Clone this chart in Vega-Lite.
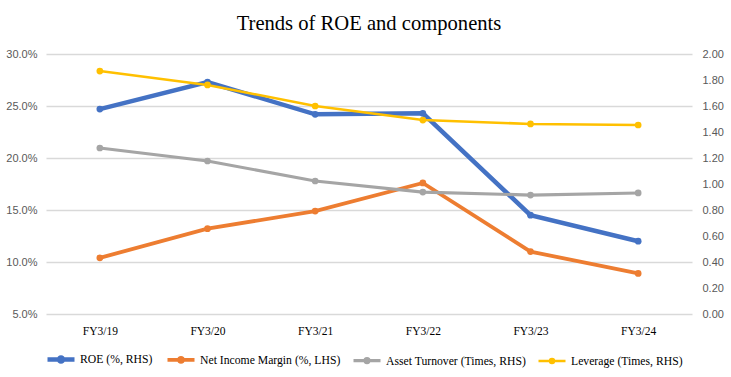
{
  "$schema": "https://vega.github.io/schema/vega-lite/v6.json",
  "width": 646,
  "height": 260,
  "autosize": "none",
  "padding": {"left": 46, "top": 54, "right": 39, "bottom": 63},
  "background": "white",
  "title": {"text": "Trends of ROE and components", "font": "Liberation Serif", "fontSize": 20.6, "fontWeight": "normal", "color": "#000000", "offset": 13},
  "data": {"values": [
    {"fy": "FY3/19", "series": "ROE (%, RHS)", "axis": "L", "value": 0.247},
    {"fy": "FY3/20", "series": "ROE (%, RHS)", "axis": "L", "value": 0.273},
    {"fy": "FY3/21", "series": "ROE (%, RHS)", "axis": "L", "value": 0.242},
    {"fy": "FY3/22", "series": "ROE (%, RHS)", "axis": "L", "value": 0.243},
    {"fy": "FY3/23", "series": "ROE (%, RHS)", "axis": "L", "value": 0.145},
    {"fy": "FY3/24", "series": "ROE (%, RHS)", "axis": "L", "value": 0.120},
    {"fy": "FY3/19", "series": "Net Income Margin (%, LHS)", "axis": "L", "value": 0.104},
    {"fy": "FY3/20", "series": "Net Income Margin (%, LHS)", "axis": "L", "value": 0.132},
    {"fy": "FY3/21", "series": "Net Income Margin (%, LHS)", "axis": "L", "value": 0.149},
    {"fy": "FY3/22", "series": "Net Income Margin (%, LHS)", "axis": "L", "value": 0.176},
    {"fy": "FY3/23", "series": "Net Income Margin (%, LHS)", "axis": "L", "value": 0.110},
    {"fy": "FY3/24", "series": "Net Income Margin (%, LHS)", "axis": "L", "value": 0.089},
    {"fy": "FY3/19", "series": "Asset Turnover (Times, RHS)", "axis": "R", "value": 1.277},
    {"fy": "FY3/20", "series": "Asset Turnover (Times, RHS)", "axis": "R", "value": 1.177},
    {"fy": "FY3/21", "series": "Asset Turnover (Times, RHS)", "axis": "R", "value": 1.023},
    {"fy": "FY3/22", "series": "Asset Turnover (Times, RHS)", "axis": "R", "value": 0.938},
    {"fy": "FY3/23", "series": "Asset Turnover (Times, RHS)", "axis": "R", "value": 0.915},
    {"fy": "FY3/24", "series": "Asset Turnover (Times, RHS)", "axis": "R", "value": 0.931},
    {"fy": "FY3/19", "series": "Leverage (Times, RHS)", "axis": "R", "value": 1.869},
    {"fy": "FY3/20", "series": "Leverage (Times, RHS)", "axis": "R", "value": 1.762},
    {"fy": "FY3/21", "series": "Leverage (Times, RHS)", "axis": "R", "value": 1.600},
    {"fy": "FY3/22", "series": "Leverage (Times, RHS)", "axis": "R", "value": 1.492},
    {"fy": "FY3/23", "series": "Leverage (Times, RHS)", "axis": "R", "value": 1.462},
    {"fy": "FY3/24", "series": "Leverage (Times, RHS)", "axis": "R", "value": 1.454}
  ]},
  "encoding": {
    "x": {"field": "fy", "type": "ordinal", "sort": null, "scale": {"padding": 0.5},
      "axis": {"title": null, "labelAngle": 0, "ticks": false, "domain": false, "labelPadding": 11}},
    "color": {"field": "series", "type": "nominal",
      "scale": {"domain": ["ROE (%, RHS)", "Net Income Margin (%, LHS)", "Asset Turnover (Times, RHS)", "Leverage (Times, RHS)"], "range": ["#4472C4", "#ED7D31", "#A5A5A5", "#FFC000"]},
      "legend": {"title": null, "orient": "none", "legendX": -1, "legendY": 289, "direction": "horizontal", "columns": 4, "columnPadding": 6,
        "labelOffset": 3,
        "symbolType": "M-1,0L1,0M0,-0.15A0.15,0.15,0,1,1,0,0.15A0.15,0.15,0,1,1,0,-0.15", "symbolSize": 729, "symbolStrokeWidth": 3}},
    "strokeWidth": {"field": "series", "type": "nominal",
      "scale": {"domain": ["ROE (%, RHS)", "Net Income Margin (%, LHS)", "Asset Turnover (Times, RHS)", "Leverage (Times, RHS)"], "range": [4.5, 2.5, 2.5, 2.5]},
      "legend": null}
  },
  "layer": [
    {
      "transform": [{"filter": "datum.axis === 'L'"}],
      "mark": {"type": "line", "point": {"filled": true, "size": 45}},
      "encoding": {
        "y": {"field": "value", "type": "quantitative", "scale": {"domain": [0.05, 0.30], "nice": false, "zero": false},
          "axis": {"title": null, "format": ".1%", "values": [0.05, 0.10, 0.15, 0.20, 0.25, 0.30], "grid": true, "gridColor": "#d9d9d9", "gridWidth": 1.3, "domain": false, "ticks": false, "labelPadding": 9}}
      }
    },
    {
      "transform": [{"filter": "datum.axis === 'R'"}],
      "mark": {"type": "line", "point": {"filled": true, "size": 45}},
      "encoding": {
        "y": {"field": "value", "type": "quantitative", "scale": {"domain": [0, 2], "nice": false, "zero": true},
          "axis": {"title": null, "orient": "right", "format": ".2f", "values": [0, 0.2, 0.4, 0.6, 0.8, 1.0, 1.2, 1.4, 1.6, 1.8, 2.0], "grid": false, "domain": false, "ticks": false, "labelPadding": 10}}
      }
    }
  ],
  "resolve": {"scale": {"y": "independent"}},
  "config": {
    "view": {"stroke": null},
    "axisX": {"labelFont": "Liberation Serif", "labelFontSize": 11.5, "labelColor": "#000000", "labelFontWeight": "normal"},
    "axisY": {"labelFont": "Liberation Sans", "labelFontSize": 11, "labelColor": "#595959"},
    "legend": {"labelFont": "Liberation Serif", "labelFontSize": 11.7, "labelColor": "#000000", "labelFontWeight": "normal"}
  }
}
